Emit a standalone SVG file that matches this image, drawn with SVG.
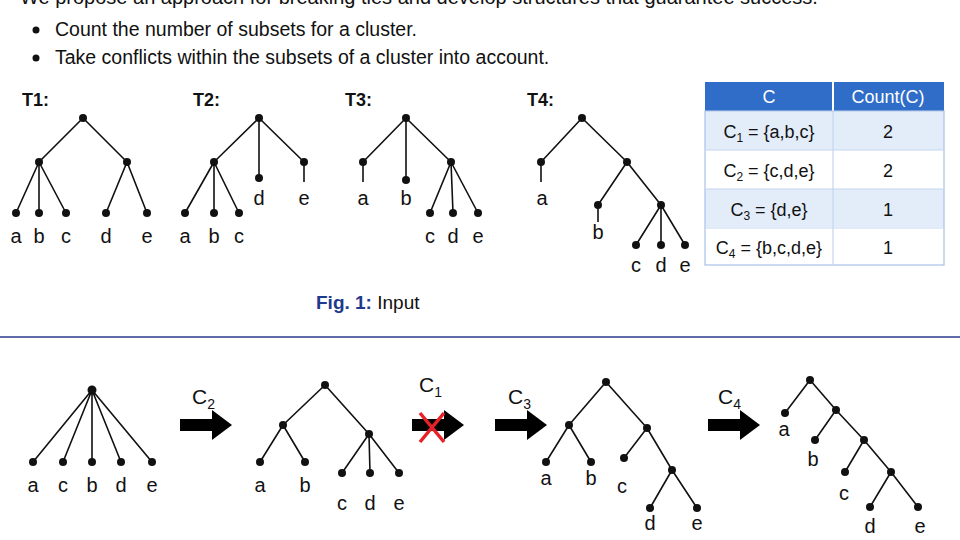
<svg xmlns="http://www.w3.org/2000/svg" width="960" height="540" viewBox="0 0 960 540">
<style>
text{font-family:"Liberation Sans",Arial,sans-serif;fill:#111}
.e{stroke:#111;stroke-width:1.6;fill:none}
.n{fill:#111}
.lb{font-size:20px;text-anchor:middle}
.t{font-size:18px;font-weight:bold}
.td{font-size:18px;text-anchor:middle}
</style>
<defs>
<g id="arr"><rect x="0" y="-6" width="34" height="12"/><polygon points="32,-15 52,0 32,15"/></g>
</defs>
<rect width="960" height="540" fill="#fff"/>
<text x="20" y="4" font-size="20">We propose an approach for breaking ties and develop structures that guarantee success.</text>
<circle cx="36" cy="30" r="3.5" class="n"/>
<text x="55" y="36" font-size="19.5">Count the number of subsets for a cluster.</text>
<circle cx="36" cy="58" r="3.5" class="n"/>
<text x="55" y="64" font-size="19.5">Take conflicts within the subsets of a cluster into account.</text>

<g id="connectors">
<path class="e" d="M83,118L39,162M83,118L127,162M39,162L16,213M39,162L39,213M39,162L66,213M127,162L106,213M127,162L147,213"/>
<path class="e" d="M259,118L214,162M259,118L259,178M259,118L304,162M304,162L304,182M214,162L185,213M214,162L214,213M214,162L239,213"/>
<path class="e" d="M406,118L363,162M363,162L363,182M406,118L406,180M406,118L451,162M451,162L430,213M451,162L453,213M451,162L478,213"/>
<path class="e" d="M582,118L541,162M541,162L541,182M582,118L627,162M627,162L598,205M598,205L598,222M627,162L661,205M661,205L636,245M661,205L661,245M661,205L685,245"/>
<path class="e" d="M92,390L33,462M92,390L63,462M92,390L92,462M92,390L121,462M92,390L152,462"/>
<path class="e" d="M325,385L283,425M325,385L369,434M283,425L260,462M283,425L305,462M369,434L342,473M369,434L370,473M369,434L399,473"/>
<path class="e" d="M606,382L569,425M606,382L647,428M569,425L546,462M569,425L591,462M647,428L624,458M647,428L672,470M672,470L650,508M672,470L697,508"/>
<path class="e" d="M810,380L785,413M810,380L836,410M836,410L815,440M836,410L864,440M864,440L845,472M864,440L891,472M891,472L870,507M891,472L918,507"/>
<use href="#arr" x="180" y="425"/>
<use href="#arr" x="412" y="425"/>
<use href="#arr" x="495" y="425"/>
<use href="#arr" x="708" y="425"/>
<path d="M420,413L444,442M444,413L420,442" stroke="#e8202a" stroke-width="3.5"/>
</g>

<g id="T1">
<text x="22" y="106" class="t">T1:</text>
<g class="n"><circle cx="83" cy="118" r="4"/><circle cx="39" cy="162" r="4"/><circle cx="127" cy="162" r="4"/><circle cx="16" cy="213" r="4"/><circle cx="39" cy="213" r="4"/><circle cx="66" cy="213" r="4"/><circle cx="106" cy="213" r="4"/><circle cx="147" cy="213" r="4"/></g>
<text x="16" y="243" class="lb">a</text><text x="39" y="243" class="lb">b</text><text x="66" y="243" class="lb">c</text><text x="106" y="243" class="lb">d</text><text x="147" y="243" class="lb">e</text>
</g>
<g id="T2">
<text x="193" y="106" class="t">T2:</text>
<g class="n"><circle cx="259" cy="118" r="4"/><circle cx="214" cy="162" r="4"/><circle cx="304" cy="162" r="4"/><circle cx="259" cy="178" r="4"/><circle cx="185" cy="213" r="4"/><circle cx="214" cy="213" r="4"/><circle cx="239" cy="213" r="4"/></g>
<text x="185" y="243" class="lb">a</text><text x="214" y="243" class="lb">b</text><text x="239" y="243" class="lb">c</text><text x="259" y="205" class="lb">d</text><text x="304" y="205" class="lb">e</text>
</g>
<g id="T3">
<text x="345" y="106" class="t">T3:</text>
<g class="n"><circle cx="406" cy="118" r="4"/><circle cx="363" cy="162" r="4"/><circle cx="406" cy="180" r="4"/><circle cx="451" cy="162" r="4"/><circle cx="430" cy="213" r="4"/><circle cx="453" cy="213" r="4"/><circle cx="478" cy="213" r="4"/></g>
<text x="363" y="205" class="lb">a</text><text x="406" y="205" class="lb">b</text><text x="430" y="243" class="lb">c</text><text x="453" y="243" class="lb">d</text><text x="478" y="243" class="lb">e</text>
</g>
<g id="T4">
<text x="527" y="106" class="t">T4:</text>
<g class="n"><circle cx="582" cy="118" r="4"/><circle cx="541" cy="162" r="4"/><circle cx="627" cy="162" r="4"/><circle cx="598" cy="205" r="4"/><circle cx="661" cy="205" r="4"/><circle cx="636" cy="245" r="4"/><circle cx="661" cy="245" r="4"/><circle cx="685" cy="245" r="4"/></g>
<text x="542" y="205" class="lb">a</text><text x="598" y="239" class="lb">b</text><text x="636" y="272" class="lb">c</text><text x="661" y="272" class="lb">d</text><text x="685" y="272" class="lb">e</text>
</g>

<g id="table">
<rect x="705" y="82" width="239" height="29" fill="#2f6dc8"/>
<line x1="833" y1="82" x2="833" y2="111" stroke="#fff" stroke-width="2"/>
<text x="769" y="103" class="td" style="fill:#fff">C</text>
<text x="888" y="103" class="td" style="fill:#fff">Count(C)</text>
<rect x="705" y="112" width="239" height="38" fill="#e3ecf9"/>
<rect x="705" y="189" width="239" height="38" fill="#e3ecf9"/>
<rect x="705" y="111" width="239" height="154" fill="none" stroke="#a9c2e8" stroke-width="1.2"/>
<path d="M705,150H944M705,189H944M705,228H944M833,111V265" stroke="#c5d6ef" stroke-width="1.2"/>
<text x="769" y="138" class="td">C<tspan font-size="12" dy="4">1</tspan><tspan dy="-4"> = {a,b,c}</tspan></text>
<text x="769" y="177" class="td">C<tspan font-size="12" dy="4">2</tspan><tspan dy="-4"> = {c,d,e}</tspan></text>
<text x="769" y="216" class="td">C<tspan font-size="12" dy="4">3</tspan><tspan dy="-4"> = {d,e}</tspan></text>
<text x="769" y="254" class="td">C<tspan font-size="12" dy="4">4</tspan><tspan dy="-4"> = {b,c,d,e}</tspan></text>
<text x="888" y="138" class="td">2</text><text x="888" y="177" class="td">2</text><text x="888" y="216" class="td">1</text><text x="888" y="254" class="td">1</text>
</g>

<text x="316" y="309" font-size="19"><tspan font-weight="bold" style="fill:#1e3a8a">Fig. 1:</tspan> Input</text>
<line x1="0" y1="337" x2="960" y2="337" stroke="#2b3a8a" stroke-width="1.5"/>

<g id="B1">
<g class="n"><circle cx="92" cy="390" r="4.5"/><circle cx="33" cy="462" r="4"/><circle cx="63" cy="462" r="4"/><circle cx="92" cy="462" r="4"/><circle cx="121" cy="462" r="4"/><circle cx="152" cy="462" r="4"/></g>
<text x="33" y="492" class="lb">a</text><text x="63" y="492" class="lb">c</text><text x="92" y="492" class="lb">b</text><text x="121" y="492" class="lb">d</text><text x="152" y="492" class="lb">e</text>
</g>
<g id="B2">
<g class="n"><circle cx="325" cy="385" r="4"/><circle cx="283" cy="425" r="4"/><circle cx="369" cy="434" r="4"/><circle cx="260" cy="462" r="4"/><circle cx="305" cy="462" r="4"/><circle cx="342" cy="473" r="4"/><circle cx="370" cy="473" r="4"/><circle cx="399" cy="473" r="4"/></g>
<text x="260" y="492" class="lb">a</text><text x="305" y="492" class="lb">b</text><text x="342" y="510" class="lb">c</text><text x="370" y="510" class="lb">d</text><text x="399" y="510" class="lb">e</text>
</g>
<g id="B3">
<g class="n"><circle cx="606" cy="382" r="4"/><circle cx="569" cy="425" r="4"/><circle cx="647" cy="428" r="4"/><circle cx="546" cy="462" r="4"/><circle cx="591" cy="462" r="4"/><circle cx="624" cy="458" r="4"/><circle cx="672" cy="470" r="4"/><circle cx="650" cy="508" r="4"/><circle cx="697" cy="508" r="4"/></g>
<text x="546" y="485" class="lb">a</text><text x="591" y="485" class="lb">b</text><text x="622" y="493" class="lb">c</text><text x="650" y="530" class="lb">d</text><text x="697" y="530" class="lb">e</text>
</g>
<g id="B4">
<g class="n"><circle cx="810" cy="380" r="4"/><circle cx="785" cy="413" r="4"/><circle cx="836" cy="410" r="4"/><circle cx="815" cy="440" r="4"/><circle cx="864" cy="440" r="4"/><circle cx="845" cy="472" r="4"/><circle cx="891" cy="472" r="4"/><circle cx="870" cy="507" r="4"/><circle cx="918" cy="507" r="4"/></g>
<text x="784" y="436" class="lb">a</text><text x="813" y="466" class="lb">b</text><text x="844" y="500" class="lb">c</text><text x="870" y="533" class="lb">d</text><text x="920" y="533" class="lb">e</text>
</g>
<g id="labels">
<text x="192" y="404" font-size="21">C<tspan font-size="14" dy="5">2</tspan></text>
<text x="419" y="392" font-size="21">C<tspan font-size="14" dy="5">1</tspan></text>
<text x="508" y="404" font-size="21">C<tspan font-size="14" dy="5">3</tspan></text>
<text x="718" y="404" font-size="21">C<tspan font-size="14" dy="5">4</tspan></text>
</g>
</svg>
